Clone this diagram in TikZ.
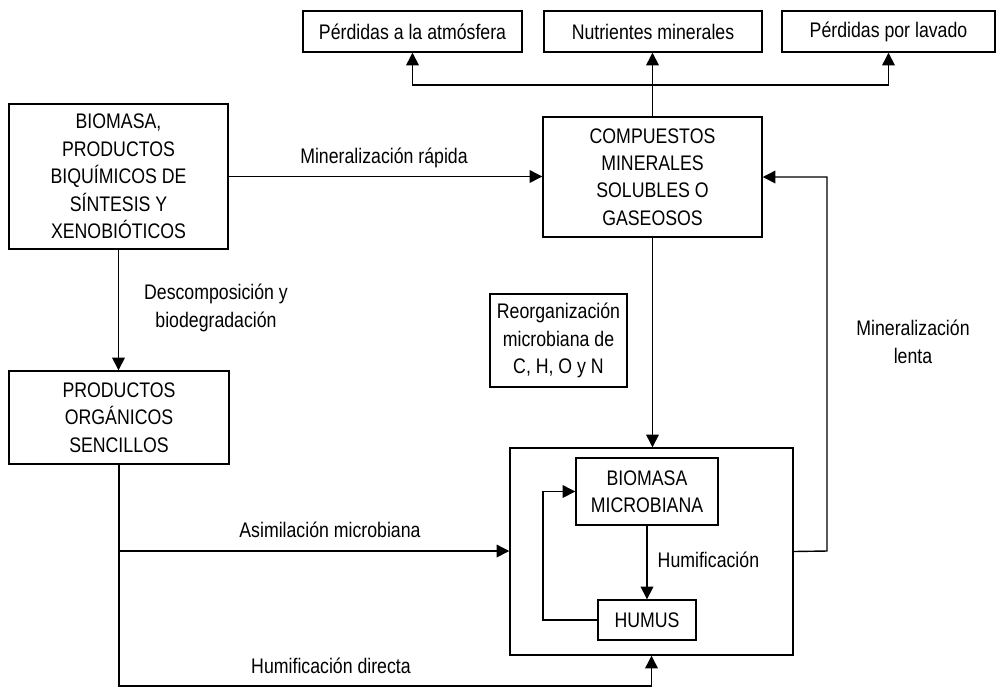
\documentclass[tikz,border=0pt]{standalone}
\usepackage{fontspec}
\setmainfont{Liberation Sans}[FakeStretch=0.84]
\usetikzlibrary{arrows.meta}
\begin{document}
\begin{tikzpicture}[x=0.025cm,y=-0.025cm,line width=1pt,
    font=\fontsize{15}{19.5}\selectfont,>={Triangle[length=9pt,width=9pt]}]
  \tikzstyle{caja}=[draw,align=center,inner sep=0pt]
  \tikzstyle{etiqueta}=[align=center,inner sep=0pt]
  \useasboundingbox (0,0) rectangle (997,687);
  % cajas de arriba
  \node[caja,minimum width=5.475cm,minimum height=1.025cm] (atm) at (412.5,31.5) {P\'erdidas a la atm\'osfera};
  \node[caja,minimum width=5.45cm,minimum height=1.025cm] (nutr) at (653,31.5) {Nutrientes minerales};
  \node[caja,minimum width=5.325cm,minimum height=1.025cm] (lav) at (888.5,31.5) {P\'erdidas por lavado};
  % cajas principales
  \node[caja,minimum width=5.475cm,minimum height=3.625cm] (bio) at (118.5,176.5)
    {BIOMASA,\\PRODUCTOS\\BIQU\'IMICOS DE\\S\'INTESIS Y\\XENOBI\'OTICOS};
  \node[caja,minimum width=5.475cm,minimum height=3cm] (comp) at (652.5,177)
    {COMPUESTOS\\MINERALES\\SOLUBLES O\\GASEOSOS};
  \node[caja,minimum width=5.5cm,minimum height=2.325cm] (prod) at (119,417.5)
    {PRODUCTOS\\ORG\'ANICOS\\SENCILLOS};
  \node[caja,minimum width=3.425cm,minimum height=2.325cm] (reorg) at (558.5,340.5)
    {Reorganizaci\'on\\microbiana de\\C, H, O y N};
  \node[caja,minimum width=7.075cm,minimum height=5.175cm] (suelo) at (651.5,551.5) {};
  \node[caja,minimum width=3.55cm,minimum height=1.675cm] (micro) at (647,491.5)
    {BIOMASA\\MICROBIANA};
  \node[caja,minimum width=2.45cm,minimum height=1cm] (humus) at (647,620) {HUMUS};
  % puntos de quiebre
  \coordinate (rama) at (652.5,85);
  \coordinate (bucle) at (543,620);
  \coordinate (desvio) at (119,551);
  \coordinate (esquina) at (119,686);
  \coordinate (retorno) at (827,551);
  % flechas
  \draw[->] (comp.north) -- (comp.north |- nutr.south);
  \draw[->] (rama) -| (atm.south);
  \draw[->] (rama) -| (lav.south);
  \draw[->] (bio.east) -- (bio.east -| comp.west);
  \draw[->] (bio.south) -- (bio.south |- prod.north);
  \draw[->] (comp.south) -- (comp.south |- suelo.north);
  \draw[->] (micro.south) -- (humus.north);
  \draw[->] (humus.west) -- (bucle) |- (micro.west);
  \draw[->] (desvio) -- (desvio -| suelo.west);
  \draw[->] (prod.south) -- (esquina) -| (suelo.south);
  \draw[->] (suelo.east) -- (retorno) |- (comp.east);
  % etiquetas
  \node[etiqueta,anchor=base] (rapida) at (384,163) {Mineralizaci\'on r\'apida};
  \node[etiqueta] (descomp) at (216,308) {Descomposici\'on y\\biodegradaci\'on};
  \node[etiqueta] (lenta) at (913,342) {Mineralizaci\'on\\lenta};
  \node[etiqueta,anchor=base] (asim) at (330,537) {Asimilaci\'on microbiana};
  \node[etiqueta,anchor=base] (directa) at (331,673) {Humificaci\'on directa};
  \node[etiqueta,anchor=base west] (humif) at (657,567) {Humificaci\'on};
\end{tikzpicture}
\end{document}
